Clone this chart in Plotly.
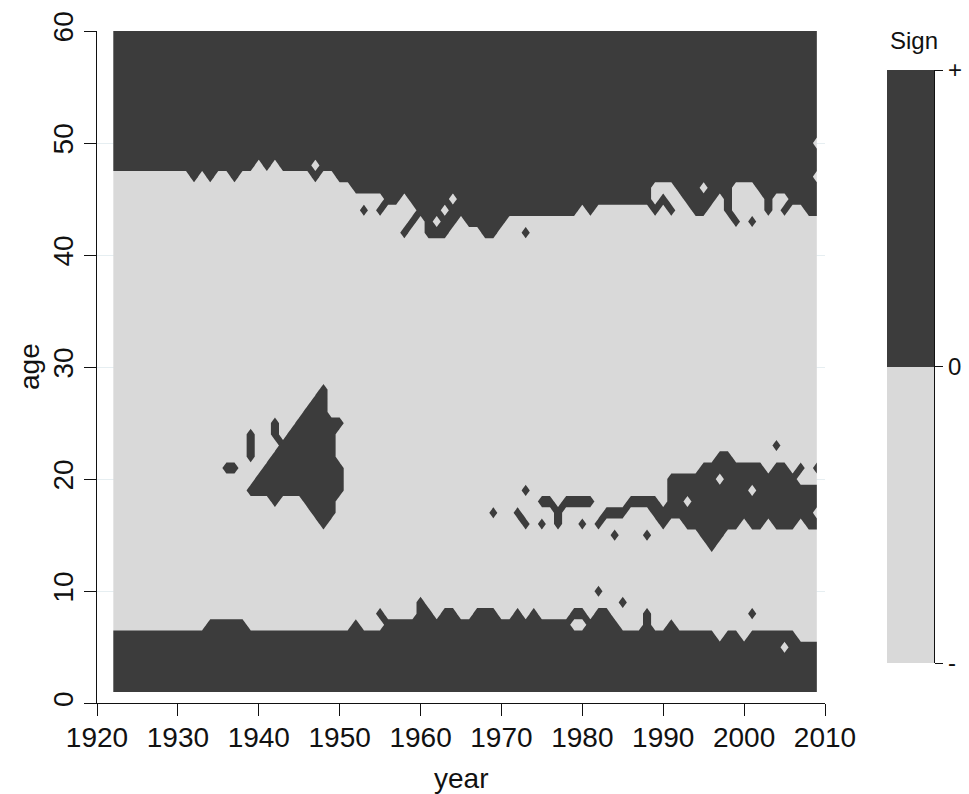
import plotly.graph_objects as go

# Grid of the sign surface: years on x, ages on y
years = list(range(1922, 2010))
ages = list(range(1, 61))

# Lowest age of the upper positive band, one value per year
upper_edge = [
    48, 48, 48, 48, 48, 48, 48, 48, 48, 48,          # 1922-1931
    47, 48, 47, 48, 48, 47, 48, 48, 49, 48,          # 1932-1941
    49, 48, 48, 48, 48, 49, 48, 48, 47, 47,          # 1942-1951
    46, 46, 46, 46, 45, 45, 46, 45, 44, 42,          # 1952-1961
    42, 42, 43, 44, 43, 43, 42, 42, 43, 44,          # 1962-1971
    44, 44, 44, 44, 44, 44, 44, 44, 45, 44,          # 1972-1981
    45, 45, 45, 45, 45, 45, 45, 47, 47, 47,          # 1982-1991
    46, 45, 44, 44, 45, 46, 44, 47, 47, 47,          # 1992-2001
    46, 45, 46, 46, 45, 45, 44, 44,                  # 2002-2009
]

# Highest age of the lower positive band, one value per year
lower_edge = [
    6, 6, 6, 6, 6, 6, 6, 6, 6, 6,                    # 1922-1931
    6, 6, 7, 7, 7, 7, 7, 6, 6, 6,                    # 1932-1941
    6, 6, 6, 6, 6, 6, 6, 6, 6, 6,                    # 1942-1951
    7, 6, 6, 6, 7, 7, 7, 7, 9, 8,                    # 1952-1961
    7, 8, 8, 7, 7, 8, 8, 8, 7, 7,                    # 1962-1971
    8, 7, 8, 7, 7, 7, 7, 6, 6, 7,                    # 1972-1981
    8, 8, 7, 6, 6, 6, 8, 6, 6, 7,                    # 1982-1991
    6, 6, 6, 6, 6, 5, 6, 6, 5, 6,                    # 1992-2001
    6, 6, 6, 6, 6, 5, 5, 5,                          # 2002-2009
]

# Positive runs in the middle ages: (year, first age, last age)
middle_runs = [
    (1936, 21, 21), (1937, 21, 21), (1939, 22, 24), (1942, 24, 25),
    (1939, 19, 19), (1940, 19, 20), (1941, 19, 21), (1942, 18, 22),
    (1943, 19, 23), (1944, 19, 24), (1945, 19, 25), (1946, 18, 26),
    (1947, 17, 27), (1948, 16, 28), (1949, 17, 25), (1950, 19, 21),
    (1969, 17, 17), (1972, 17, 17), (1973, 16, 16), (1973, 19, 19),
    (1975, 16, 16), (1975, 18, 18), (1976, 18, 18), (1977, 16, 17),
    (1978, 18, 18), (1979, 18, 18), (1980, 18, 18), (1981, 18, 18),
    (1980, 16, 16), (1982, 16, 16), (1983, 17, 17), (1984, 17, 17),
    (1985, 17, 17), (1984, 15, 15), (1988, 15, 15), (1986, 18, 18),
    (1987, 18, 18), (1988, 18, 18), (1989, 17, 18), (1990, 16, 17),
    (1991, 17, 20), (1992, 17, 20), (1993, 16, 20), (1994, 16, 20),
    (1995, 15, 21), (1996, 14, 21), (1997, 15, 22), (1998, 16, 22),
    (1999, 16, 21), (2000, 17, 21), (2001, 16, 21), (2002, 16, 21),
    (2003, 17, 20), (2004, 16, 21), (2005, 16, 21), (2006, 16, 20),
    (2007, 17, 19), (2008, 16, 19), (2009, 18, 19),
]

# Single positive cells outside the bands
pos_cells = [
    (1947, 47), (1953, 44), (1955, 44), (1958, 42), (1959, 43),
    (1973, 42), (1989, 44), (1990, 45), (1991, 44), (1999, 43),
    (2001, 43), (2003, 44), (2005, 44),
    (1955, 8), (1979, 8), (1980, 8), (1982, 10), (1985, 9), (2001, 8),
    (1950, 25), (2004, 23), (2007, 21), (2009, 21), (2009, 16),
]

# Single negative cells inside positive areas
neg_cells = [
    (1962, 43), (1963, 44), (1964, 45), (1995, 46), (2009, 47), (2009, 50),
    (2005, 5), (1993, 18), (1997, 20), (2001, 19),
]

# Colour key
legend_levels = [-1, 0, 1]
legend_labels = ["-", "0", "+"]

DARK = "#3c3c3c"
LIGHT = "#d9d9d9"
INK = "#111111"
GRID = "#e6eef1"
FONT = "Liberation Sans, Arial, sans-serif"

# Build the sign matrix (rows = ages, columns = years)
z = [[-1 for _ in years] for _ in ages]
col = {yr: j for j, yr in enumerate(years)}
row = {a: i for i, a in enumerate(ages)}
for j, yr in enumerate(years):
    for i, a in enumerate(ages):
        if a >= upper_edge[j] or a <= lower_edge[j]:
            z[i][j] = 1
for yr, lo, hi in middle_runs:
    for a in range(lo, hi + 1):
        z[row[a]][col[yr]] = 1
for yr, a in pos_cells:
    z[row[a]][col[yr]] = 1
for yr, a in neg_cells:
    z[row[a]][col[yr]] = -1

W, H = 969, 794

def px_x(p):
    return p / W

def px_y(p):
    return 1 - p / H

fig = go.Figure()

fig.add_trace(go.Contour(
    x=years, y=ages, z=z,
    zmin=-1, zmax=1,
    autocontour=False,
    contours=dict(start=0, end=0, size=1, coloring="fill", showlines=False),
    colorscale=[[0, LIGHT], [0.5, LIGHT], [0.5, DARK], [1, DARK]],
    line=dict(width=0, smoothing=0),
    showscale=False,
    hoverinfo="skip",
))

# Colour key drawn as a two-cell heatmap on its own axes
fig.add_trace(go.Heatmap(
    x=[0], y=[-0.5, 0.5], z=[[legend_levels[0]], [legend_levels[2]]],
    zmin=-1, zmax=1,
    colorscale=[[0, LIGHT], [1, DARK]],
    showscale=False, hoverinfo="skip",
    xaxis="x2", yaxis="y2",
))

axis_common = dict(
    ticks="outside", ticklen=12, tickwidth=1.3, tickcolor=INK,
    showline=True, linecolor=INK, linewidth=1.3,
    zeroline=False, automargin=False,
    tickfont=dict(family=FONT, size=28, color=INK),
)

fig.update_layout(
    width=W, height=H,
    margin=dict(l=0, r=0, t=0, b=0),
    paper_bgcolor="white", plot_bgcolor="white",
    showlegend=False,
    font=dict(family=FONT, color=INK),
    xaxis=dict(
        domain=[px_x(97), px_x(825)], range=[1920, 2010],
        tickvals=list(range(1920, 2011, 10)),
        ticklabelstandoff=-3,
        showgrid=False, **axis_common,
    ),
    yaxis=dict(
        domain=[px_y(703.3), px_y(31)], range=[0, 60],
        tickvals=list(range(0, 61, 10)), tickangle=-90,
        showgrid=True, gridcolor=GRID, gridwidth=1.3,
        **axis_common,
    ),
    xaxis2=dict(
        domain=[px_x(887), px_x(934)], range=[-0.5, 0.5],
        visible=False, anchor="y2",
    ),
    yaxis2=dict(
        domain=[px_y(663), px_y(70)], range=[-1, 1], anchor="x2",
        side="right", tickvals=legend_levels, ticktext=legend_labels,
        ticks="outside", ticklen=8, tickwidth=1.3, tickcolor=INK,
        showline=True, linecolor=INK, linewidth=1.3,
        showgrid=False, zeroline=False, automargin=False,
        tickfont=dict(family=FONT, size=24, color=INK),
    ),
    annotations=[
        dict(text="year", x=px_x(461), y=px_y(778), xref="paper", yref="paper",
             showarrow=False, xanchor="center", yanchor="middle",
             font=dict(family=FONT, size=28, color=INK)),
        dict(text="age", x=px_x(30), y=px_y(367), xref="paper", yref="paper",
             showarrow=False, xanchor="center", yanchor="middle", textangle=-90,
             font=dict(family=FONT, size=28, color=INK)),
        dict(text="Sign", x=px_x(914), y=px_y(40), xref="paper", yref="paper",
             showarrow=False, xanchor="center", yanchor="middle",
             font=dict(family=FONT, size=24, color=INK)),
    ],
)

fig.write_html("out.html")
